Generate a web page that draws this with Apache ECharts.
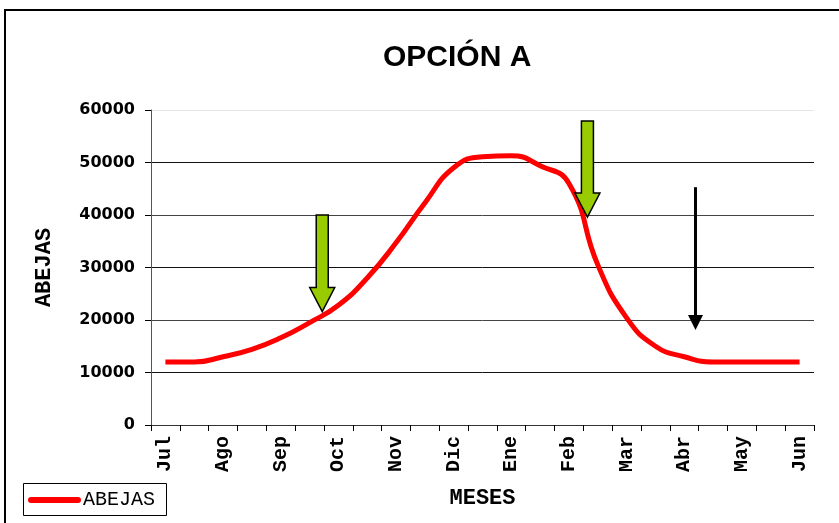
<!DOCTYPE html>
<html>
<head>
<meta charset="utf-8">
<title>OPCIÓN A</title>
<script src="https://cdn.jsdelivr.net/npm/echarts@6/dist/echarts.min.js"></script>
<style>
  html, body { margin: 0; padding: 0; background: #ffffff; }
  #chart { width: 839px; height: 523px; }
</style>
</head>
<body>
<div id="chart"></div>
<script>
// meses, dos puntos por mes (solo se rotula uno de cada dos)
const months = ['Jul', '', 'Ago', '', 'Sep', '', 'Oct', '', 'Nov', '', 'Dic', '',
  'Ene', '', 'Feb', '', 'Mar', '', 'Abr', '', 'May', '', 'Jun']
const abejas = [12000, 12000, 13000, 14400, 16600, 19500, 22800, 28000, 34700, 42300, 49000, 51100,
  51300, 49400, 46000, 30500, 20400, 15000, 13000, 12000, 12000, 12000, 12000]
const yTicks = [0, 10000, 20000, 30000, 40000, 50000, 60000]
const seriesName = 'ABEJAS'

// flechas: posicion en categorias, valor inicial y valor final
const arrows = [
  { pos: 5.44, from: 40000, to: 21600, kind: 'green' },
  { pos: 14.64, from: 57900, to: 39600, kind: 'green' },
  { pos: 18.39, from: 45300, to: 18100, kind: 'black' }
]

const monoFont = 'Liberation Mono'
const lineColor = '#ff0000'

const chart = echarts.init(document.getElementById('chart'))

chart.setOption({
  animation: false,
  backgroundColor: '#ffffff',
  title: {
    text: 'OPCIÓN A',
    left: 378,
    top: 38,
    textStyle: {
      fontFamily: 'Liberation Sans',
      fontWeight: 'bold',
      fontSize: 30,
      color: '#000000'
    }
  },
  grid: {
    left: 151,
    right: 25,
    top: 110,
    bottom: 98,
    outerBoundsMode: 'none'
  },
  xAxis: {
    type: 'category',
    data: months,
    boundaryGap: true,
    name: 'MESES',
    nameLocation: 'middle',
    nameGap: 62,
    nameTextStyle: { fontFamily: monoFont, fontWeight: 'bold', fontSize: 22, color: '#000000' },
    axisLine: { lineStyle: { color: '#333333', width: 1 } },
    axisTick: { show: true, interval: 0, length: 6, lineStyle: { color: '#000000' } },
    axisLabel: {
      interval: 0,
      rotate: 90,
      margin: 11,
      fontFamily: monoFont,
      fontWeight: 'bold',
      fontSize: 20,
      color: '#000000'
    },
    splitLine: { show: false }
  },
  yAxis: {
    type: 'value',
    min: yTicks[0],
    max: yTicks[yTicks.length - 1],
    interval: 10000,
    name: 'ABEJAS',
    nameLocation: 'middle',
    nameGap: 96,
    nameTextStyle: { fontFamily: monoFont, fontWeight: 'bold', fontSize: 22, color: '#000000' },
    axisLine: { show: true, lineStyle: { color: '#555555', width: 1 } },
    axisTick: { show: true, length: 6, lineStyle: { color: '#000000' } },
    axisLabel: {
      margin: 16,
      formatter: value => String(value),
      fontFamily: 'DejaVu Sans',
      fontWeight: 'bold',
      fontSize: 16,
      color: '#000000'
    },
    splitLine: {
      show: true,
      lineStyle: {
        color: ['#000000', '#111111', '#444444', '#111111', '#444444', '#111111', '#e6e6e6'],
        width: 1
      }
    }
  },
  series: [{
    name: seriesName,
    type: 'line',
    data: abejas,
    smooth: true,
    showSymbol: false,
    symbol: 'none',
    lineStyle: { color: lineColor, width: 5 },
    itemStyle: { color: lineColor }
  }]
})

function toPixel(pos, value) {
  const i = Math.floor(pos)
  const a = chart.convertToPixel({ gridIndex: 0 }, [i, value])
  const b = chart.convertToPixel({ gridIndex: 0 }, [i + 1, value])
  return [a[0] + (b[0] - a[0]) * (pos - i), a[1]]
}

const graphics = [{
  type: 'rect',
  shape: { x: 5, y: 10, width: 900, height: 600 },
  style: { fill: 'none', stroke: '#000000', lineWidth: 2 },
  silent: true
}, {
  // leyenda
  type: 'group',
  left: 23,
  top: 483,
  children: [{
    type: 'rect',
    shape: { x: 0.5, y: 0.5, width: 143, height: 32 },
    style: { fill: '#ffffff', stroke: '#000000', lineWidth: 1 }
  }, {
    type: 'line',
    shape: { x1: 8, y1: 17, x2: 55, y2: 17 },
    style: { stroke: lineColor, lineWidth: 6, lineCap: 'round' }
  }, {
    type: 'text',
    x: 60,
    y: 17,
    style: {
      text: seriesName,
      font: 'normal 20px "Liberation Mono", "DejaVu Sans Mono", "Courier New", monospace',
      fill: '#000000',
      verticalAlign: 'middle'
    }
  }]
}]

arrows.forEach(item => {
  const top = toPixel(item.pos, item.from)
  const tip = toPixel(item.pos, item.to)
  const cx = top[0]
  if (item.kind === 'green') {
    const base = tip[1] - 24
    graphics.push({
      type: 'polygon',
      shape: {
        points: [
          [cx - 6, top[1]], [cx + 6, top[1]], [cx + 6, base], [cx + 12.5, base],
          [cx, tip[1]], [cx - 12.5, base], [cx - 6, base]
        ]
      },
      style: { fill: '#99cc00', stroke: '#000000', lineWidth: 1.5 },
      z: 100
    })
  } else {
    graphics.push({
      type: 'line',
      shape: { x1: cx, y1: top[1], x2: cx, y2: tip[1] - 12 },
      style: { stroke: '#000000', lineWidth: 3 },
      z: 100
    })
    graphics.push({
      type: 'polygon',
      shape: { points: [[cx - 7.5, tip[1] - 15], [cx + 7.5, tip[1] - 15], [cx, tip[1]]] },
      style: { fill: '#000000' },
      z: 100
    })
  }
})

chart.setOption({ graphic: graphics })
</script>
</body>
</html>
